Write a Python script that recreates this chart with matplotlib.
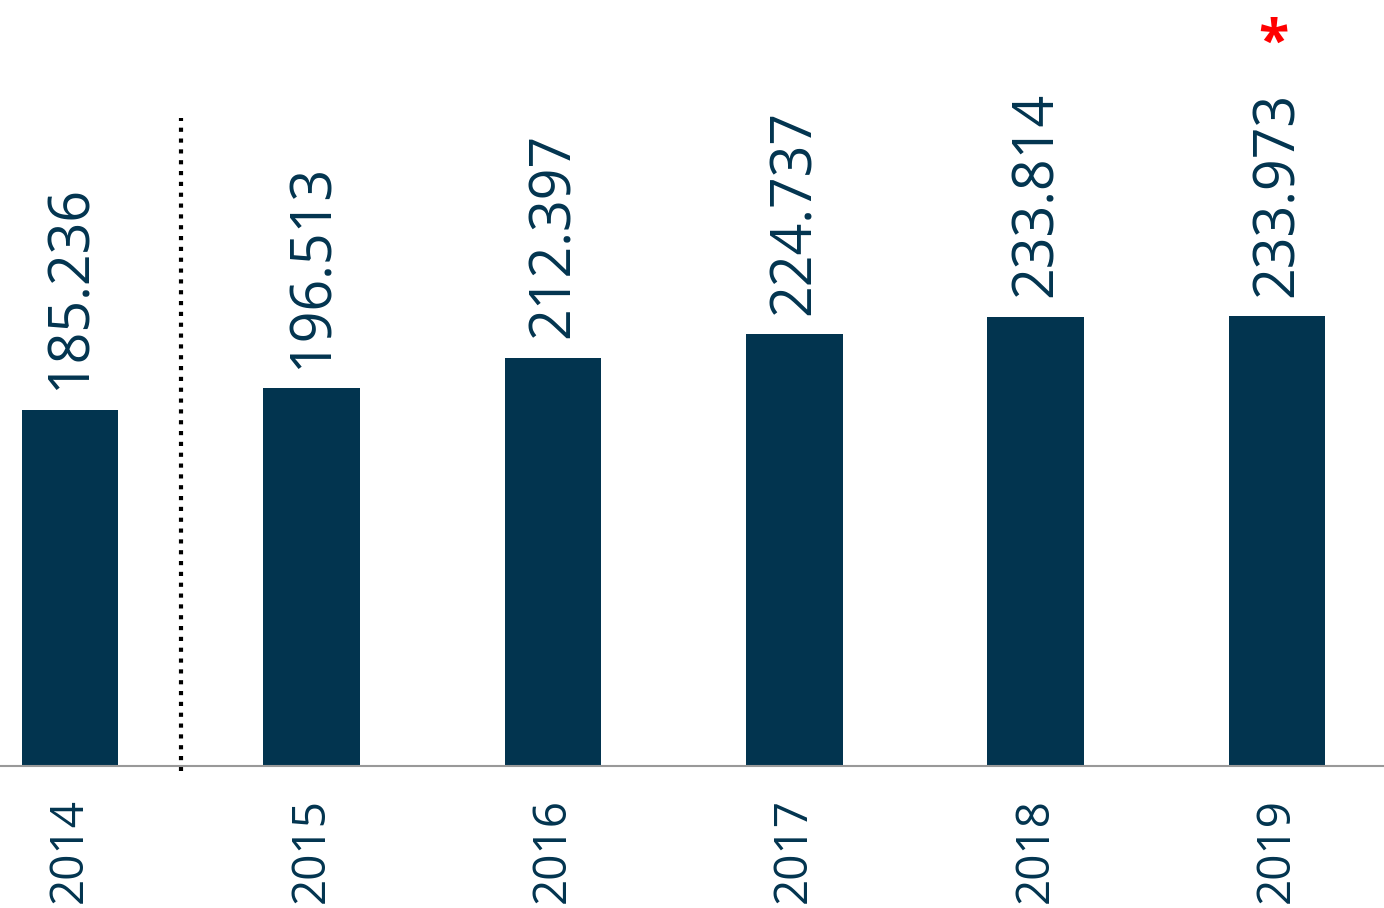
import matplotlib
matplotlib.use("Agg")
import matplotlib.pyplot as plt

years = ["2014", "2015", "2016", "2017", "2018", "2019"]
values = [185.236, 196.513, 212.397, 224.737, 233.814, 233.973]
value_labels = ["185.236", "196.513", "212.397", "224.737", "233.814", "233.973"]

NAVY = "#02344F"
plt.rcParams['font.family'] = ['Open Sans', 'DejaVu Sans']

fig = plt.figure(figsize=(13.84, 9.08), dpi=100)
ax = fig.add_axes([0, 0.1564, 1, 0.8436])

x = list(range(len(years)))
ax.bar(x, values, width=0.4, color=NAVY)

for xi, v, lab in zip(x, values, value_labels):
    ax.annotate(lab, (xi, v), xytext=(1, 14), textcoords="offset points",
                rotation=90, ha="center", va="bottom", fontsize=40, color=NAVY)

ax.text(4.985, 375.5, "*", color="red", fontsize=40, fontweight="bold",
        ha="center", va="center")

ax.plot([0.46, 0.46], [-2.6, 337], color="black", lw=3,
        linestyle=(0, (1.0, 1.6)), clip_on=False)

ax.set_xlim(-0.29, 5.443)
ax.set_ylim(0, 398.5)
ax.set_xticks(x)
ax.set_xticklabels(years, rotation=90, fontsize=33, color=NAVY)
ax.tick_params(axis="x", length=0, pad=23)
ax.set_yticks([])
for s in ["top", "left", "right"]:
    ax.spines[s].set_visible(False)
ax.spines["bottom"].set_color("#999999")
ax.spines["bottom"].set_linewidth(1.5)

fig.savefig("out.png", dpi=100)
